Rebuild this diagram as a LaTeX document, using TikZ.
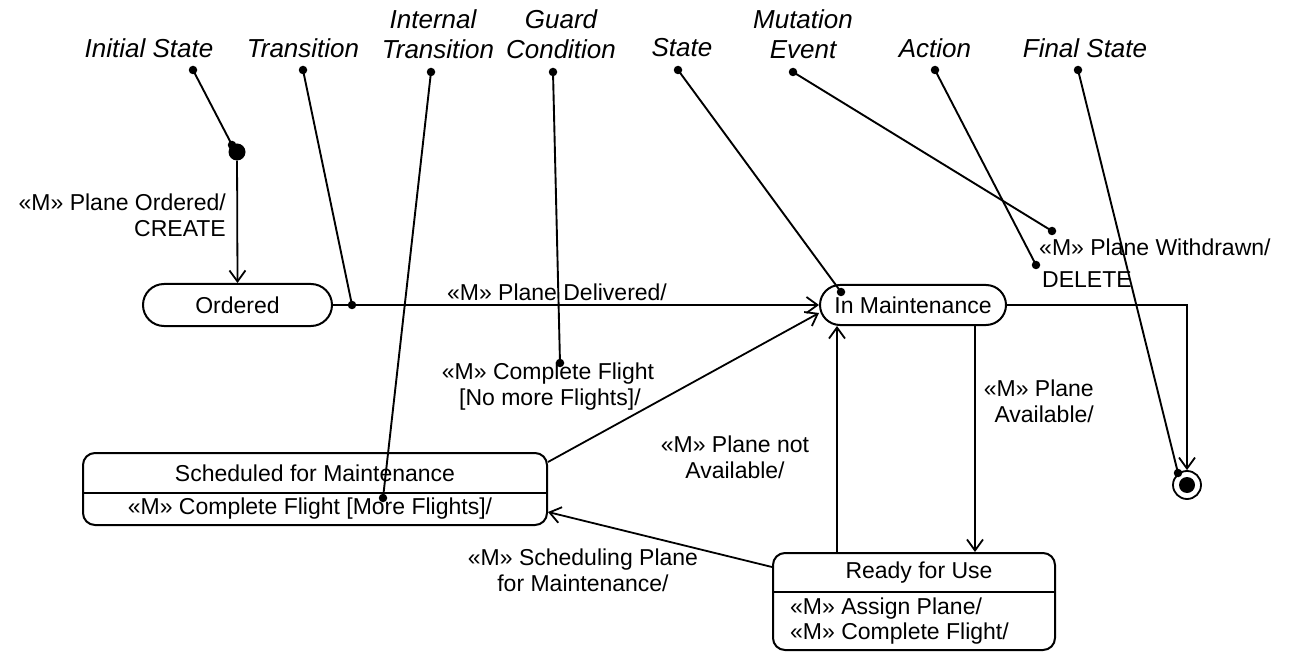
\documentclass[tikz,border=0pt]{standalone}
\usepackage{fontspec}
\setmainfont{Liberation Sans}
\usetikzlibrary{arrows.meta}
\begin{document}
\begin{tikzpicture}[x=1pt,y=-1pt,
  body/.style={font=\fontsize{23}{26}\selectfont},
  notelabel/.style={font=\fontsize{26}{30}\selectfont\itshape, inner sep=0pt, align=center},
  txt/.style={body, inner sep=0pt, align=center},
  statebox/.style={draw, line width=2pt, rounded corners=#1, inner sep=0pt, body},
  trans/.style={line width=1.8pt, -{Straight Barb[length=11pt,width=16pt,line width=1.8pt]}},
  annot/.style={line width=1.9pt},
  pin/.style={circle, fill, inner sep=0pt, minimum size=8.5pt},
]
\useasboundingbox (0,0) rectangle (1293,652);

% ---- states ----
\node[circle, fill, minimum size=17pt, inner sep=0pt] (init) at (237,152) {};
\node[statebox=21pt, minimum width=189pt, minimum height=42pt] (ordered) at (237.5,305) {Ordered};
\node[statebox=20pt, minimum width=186pt, minimum height=40pt] (maint) at (913,305) {In Maintenance};
\node[statebox=12pt, minimum width=464pt, minimum height=72pt] (sched) at (315,489) {};
\node[statebox=12pt, minimum width=282pt, minimum height=97pt] (ready) at (914,601.5) {};
\node[circle, draw, line width=1.8pt, minimum size=28pt, inner sep=0pt] (final) at (1187,485) {};
\node[circle, fill, minimum size=16pt, inner sep=0pt] (finaldot) at (final) {};

% compartment dividers
\draw[line width=2pt] ([yshift=-4pt]sched.west) -- ([yshift=-4pt]sched.east);
\draw[line width=2pt] ([yshift=9.5pt]ready.west) -- ([yshift=9.5pt]ready.east);

% compartment texts
\node[txt] (schedtitle) at (315,473) {Scheduled for Maintenance};
\node[txt] (schedint) at (310,509) {«M» Complete Flight [More Flights]/};
\node[txt] (readytitle) at (919,573) {Ready for Use};
\node[txt, anchor=west] (readyint1) at (790,609) {«M» Assign Plane/};
\node[txt, anchor=west] (readyint2) at (790,634) {«M» Complete Flight/};

% ---- transitions ----
\draw[trans] (init) -- (ordered.north);
\draw[trans] (ordered.east) -- (maint.west);
\draw[trans] (maint.east) -| (final.north);
\draw[trans] ([yshift=-10pt]sched.north east) -- ([yshift=-8pt]maint.west);
\draw[trans] ([yshift=34.5pt]ready.west) -- ([yshift=-23pt]sched.east);
\draw[trans] ([xshift=-77pt]ready.north) -- ([xshift=-77pt]ready.north |- maint.south);
\draw[trans] ([xshift=62pt]maint.south) -- ([xshift=62pt]maint.south |- ready.north);

% transition labels
\node[txt, align=right, anchor=east] (lblordered) at (226,215) {«M» Plane Ordered/\\CREATE};
\node[txt] (lbldelivered) at (557,292) {«M» Plane Delivered/};
\node[txt, anchor=west] (lblwithdrawn) at (1039,247) {«M» Plane Withdrawn/};
\node[txt, anchor=west] (lbldelete) at (1042,280) {DELETE};
\node[txt] (lblnomore) at (548,387) {«M» Complete Flight\\\,[No more Flights]/};
\node[txt] (lblnotavail) at (735,457) {«M» Plane not\\Available/};
\node[txt, align=right, anchor=east] (lblavail) at (1094,401) {«M» Plane\\Available/};
\node[txt] (lblsched) at (583,570) {«M» Scheduling Plane\\for Maintenance/};

% ---- annotations ----
\node[notelabel] (nInit) at (149,48) {Initial State};
\node[notelabel] (nTrans) at (303,48) {Transition};
\node[notelabel] (nInt) at (433,34) {Internal\\\hspace*{10pt}Transition};
\node[notelabel] (nGuard) at (561,34) {Guard\\Condition};
\node[notelabel] (nState) at (682,48) {State};
\node[notelabel] (nMut) at (803,34) {Mutation\\Event};
\node[notelabel] (nAct) at (935,48) {Action};
\node[notelabel] (nFinal) at (1085,48) {Final State};

\node[pin] (pInit) at (193,70) {};
\node[pin] (pTrans) at (303,70) {};
\node[pin] (pInt) at (431,72) {};
\node[pin] (pGuard) at (553,72) {};
\node[pin] (pState) at (678,70) {};
\node[pin] (pMut) at (793,72) {};
\node[pin] (pAct) at (935,70) {};
\node[pin] (pFinal) at (1078,70) {};

\node[pin] (tInit) at (232,145) {};
\node[pin] (tTrans) at (352,305) {};
\node[pin] (tInt) at (383,498) {};
\node[pin] (tGuard) at (560,363) {};
\node[pin] (tState) at (841,292) {};
\node[pin] (tMut) at (1052,231) {};
\node[pin] (tAct) at (1036,265) {};
\node[pin] (tFinal) at (1178,473) {};

\draw[annot] (pInit.center) -- (tInit.center);
\draw[annot] (pTrans.center) -- (tTrans.center);
\draw[annot] (pInt.center) -- (tInt.center);
\draw[annot] (pGuard.center) -- (tGuard.center);
\draw[annot] (pState.center) -- (tState.center);
\draw[annot] (pMut.center) -- (tMut.center);
\draw[annot] (pAct.center) -- (tAct.center);
\draw[annot] (pFinal.center) -- (tFinal.center);
\end{tikzpicture}
\end{document}
